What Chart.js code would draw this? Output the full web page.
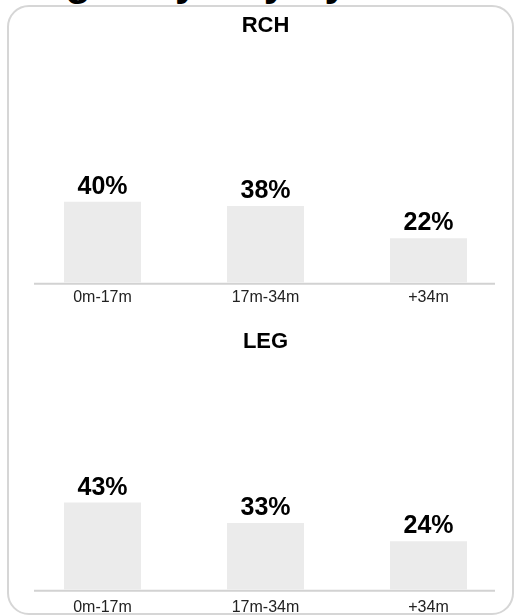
<!DOCTYPE html>
<html>
<head>
<meta charset="utf-8">
<script src="https://cdn.jsdelivr.net/npm/chart.js@4.4.1/dist/chart.umd.min.js"></script>
<style>
  body { margin: 0; width: 515px; height: 616px; overflow: hidden; background: #fff; position: relative;
         font-family: "Liberation Sans", Arial, sans-serif; }
  #heading { position: absolute; left: 0; top: -40px; margin: 0; font-size: 42px; line-height: 42px;
             font-weight: bold; white-space: nowrap; color: #000; }
  #card { position: absolute; left: 7px; top: 5px; width: 507px; height: 610px; box-sizing: border-box;
          border: 2px solid #d6d6d6; border-radius: 22px; }
  canvas { position: absolute; left: 0; }
  #rchChart { top: 0; }
  #legChart { top: 310px; }
</style>
</head>
<body>
<h1 id="heading">Stages by Day by Zone</h1>
<div id="card"></div>
<canvas id="rchChart" width="515" height="315"></canvas>
<canvas id="legChart" width="515" height="315"></canvas>
<script>
// Chart data
const categories = ['0m-17m', '17m-34m', '+34m'];
const rchValues = [40, 38, 22];
const legValues = [43, 33, 24];
const chartTitles = ['RCH', 'LEG'];

const FONT = '"Liberation Sans", Arial, sans-serif';

// Draws the value above each bar and the grey baseline
const barExtras = {
    id: 'barExtras',
    beforeDatasetsDraw(chart) {
        const ctx = chart.ctx;
        const area = chart.chartArea;
        ctx.save();
        ctx.strokeStyle = '#d2d2d2';
        ctx.lineWidth = 2;
        ctx.beginPath();
        ctx.moveTo(area.left + 13, area.bottom + 1);
        ctx.lineTo(area.right - 15, area.bottom + 1);
        ctx.stroke();
        ctx.restore();
    },
    afterDatasetsDraw(chart) {
        const ctx = chart.ctx;
        const meta = chart.getDatasetMeta(0);
        const values = chart.data.datasets[0].data;
        ctx.save();
        ctx.font = 'bold 25px ' + FONT;
        ctx.fillStyle = '#000';
        ctx.textAlign = 'center';
        ctx.textBaseline = 'alphabetic';
        meta.data.forEach(function(bar, i) {
            ctx.fillText(values[i] + '%', bar.x, bar.y - 8);
        });
        ctx.restore();
    }
};

function makeChart(canvasId, title, values, titlePadding, tickPadding, bottomPadding) {
    const ctx = document.getElementById(canvasId).getContext('2d');
    return new Chart(ctx, {
        type: 'bar',
        data: {
            labels: categories,
            datasets: [{
                data: values,
                backgroundColor: '#ebebeb',
                borderWidth: 0,
                categoryPercentage: 1,
                barPercentage: 0.472
            }]
        },
        options: {
            responsive: false,
            animation: false,
            layout: { padding: { left: 21, right: 5, top: 0, bottom: bottomPadding } },
            plugins: {
                legend: { display: false },
                tooltip: { enabled: false },
                title: {
                    display: true,
                    text: title,
                    color: '#000',
                    font: { family: FONT, size: 22, weight: 'bold' },
                    padding: titlePadding
                }
            },
            scales: {
                x: {
                    grid: { display: false, drawTicks: false },
                    border: { display: false },
                    ticks: { color: '#222', padding: tickPadding, font: { family: FONT, size: 16 } }
                },
                y: { display: false, min: 0, max: 100 }
            }
        },
        plugins: [barExtras]
    });
}

makeChart('rchChart', chartTitles[0], rchValues, { top: 12.8, bottom: 41.2 }, 5, 3);
makeChart('legChart', chartTitles[1], legValues, { top: 18.8, bottom: 31.8 }, 8, 0);
</script>
</body>
</html>
